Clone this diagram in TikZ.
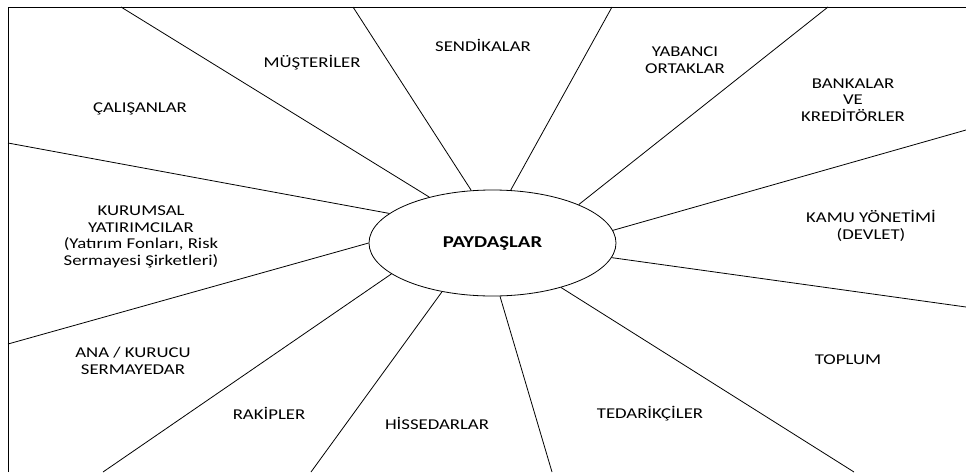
\documentclass[tikz,border=0pt]{standalone}
\usepackage{fontspec}
\setmainfont{Carlito}[FakeStretch=1.25]
\usetikzlibrary{shapes.geometric}

\begin{document}
\begin{tikzpicture}[x=1pt,y=-1pt,
  lbl/.style={align=center,inner sep=0pt,font=\fontsize{15}{16.5}\selectfont},
  ray/.style={line width=0.8pt}]
\useasboundingbox (0,0) rectangle (966,472);
\draw[line width=1pt] (8,472) -- (8,7) -- (966,7);
\node[draw,ellipse,line width=0.8pt,minimum width=247pt,minimum height=106pt,inner sep=0pt,font=\fontsize{16.6}{18}\selectfont\bfseries] (pay) at (492.5,243) {PAYDAŞLAR};
\coordinate (e1) at (121,7);
\coordinate (e2) at (353,7);
\coordinate (e3) at (612,7);
\coordinate (e4) at (828,7);
\coordinate (e5) at (966,130);
\coordinate (e6) at (966,307);
\coordinate (e7) at (854,472);
\coordinate (e8) at (552,472);
\coordinate (e9) at (311,472);
\coordinate (e10) at (103,472);
\coordinate (e11) at (8,344);
\coordinate (e12) at (8,143);
\draw[ray] (pay.144) -- (e1);
\draw[ray] (pay.112) -- (e2);
\draw[ray] (pay.71) -- (e3);
\draw[ray] (pay.24) -- (e4);
\draw[ray] (pay.6) -- (e5);
\draw[ray] (pay.-7) -- (e6);
\draw[ray] (pay.-33) -- (e7);
\draw[ray] (pay.-82) -- (e8);
\draw[ray] (pay.-136) -- (e9);
\draw[ray] (pay.-163) -- (e10);
\draw[ray] (pay.180) -- (e11);
\draw[ray] (pay.164) -- (e12);
\node[lbl] (cal) at (140,109) {ÇALIŞANLAR};
\node[lbl] (mus) at (312,63) {MÜŞTERİLER};
\node[lbl] (sen) at (483,45) {SENDİKALAR};
\node[lbl] (yab) at (685,60) {YABANCI\\ORTAKLAR};
\node[lbl] (ban) at (853,100) {BANKALAR\\VE\\KREDİTÖRLER};
\node[lbl] (kam) at (871,226) {KAMU YÖNETİMİ\\(DEVLET)};
\node[lbl] (top) at (848,360) {TOPLUM};
\node[lbl] (ted) at (650,414) {TEDARİKÇİLER};
\node[lbl] (his) at (437,423) {HİSSEDARLAR};
\node[lbl] (rak) at (269,413) {RAKİPLER};
\node[lbl] (ana) at (133,361) {ANA / KURUCU\\SERMAYEDAR};
\node[lbl] (kur) at (141,237) {KURUMSAL\\YATIRIMCILAR\\(Yatırım Fonları, Risk\\Sermayesi Şirketleri)};
\end{tikzpicture}
\end{document}
